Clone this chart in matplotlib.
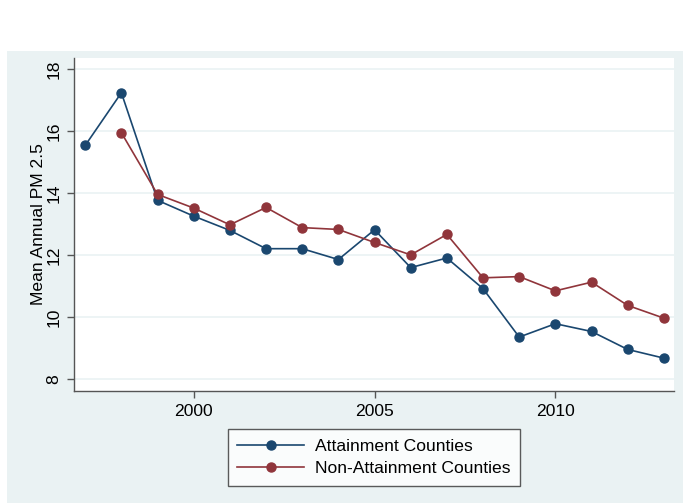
"""Mean annual PM2.5, attainment vs non-attainment counties (Stata-style line plot)."""
import matplotlib
matplotlib.use("Agg")
import matplotlib.pyplot as plt
from matplotlib.patches import Rectangle

plt.rcParams['font.family'] = ['Liberation Sans', 'DejaVu Sans']

# data
years_att = [1997, 1998, 1999, 2000, 2001, 2002, 2003, 2004, 2005,
             2006, 2007, 2008, 2009, 2010, 2011, 2012, 2013]
pm_att = [15.54, 17.24, 13.77, 13.26, 12.80, 12.21, 12.21, 11.86, 12.82,
          11.60, 11.91, 10.92, 9.36, 9.79, 9.54, 8.96, 8.68]
years_non = [1998, 1999, 2000, 2001, 2002, 2003, 2004, 2005,
             2006, 2007, 2008, 2009, 2010, 2011, 2012, 2013]
pm_non = [15.95, 13.96, 13.52, 12.98, 13.54, 12.89, 12.83, 12.41,
          12.01, 12.67, 11.27, 11.31, 10.85, 11.13, 10.38, 9.97]
labels = ["Attainment Counties", "Non-Attainment Counties"]
x_ticks = [2000, 2005, 2010]
y_ticks = [8, 10, 12, 14, 16, 18]

NAVY = "#1a476f"
MAROON = "#90353b"
BG = "#eaf2f3"
W, H = 683, 503
FS = 12.6

fig = plt.figure(figsize=(W / 100, H / 100), dpi=100, facecolor="white")
# light outer panel (Stata graph region), kept behind the axes
fig.patches.append(Rectangle((7 / W, 0), 1 - 7 / W, (H - 51) / H,
                             transform=fig.transFigure, facecolor=BG,
                             edgecolor="none", zorder=-10))

ax = fig.add_axes([74 / W, (H - 391) / H, 600 / W, 333 / H])
ax.set_zorder(1)
ax.set_facecolor("white")

ax.plot(years_att, pm_att, '-o', color=NAVY, lw=1.2, ms=6.5, label=labels[0], zorder=3)
ax.plot(years_non, pm_non, '-o', color=MAROON, lw=1.2, ms=6.5, label=labels[1], zorder=3)

ax.set_xlim(1996.69, 2013.28)
ax.set_ylim(7.62, 18.36)
ax.set_xticks(x_ticks)
ax.set_yticks(y_ticks)
ax.set_yticklabels([str(v) for v in y_ticks], rotation=90, va="center")
ax.tick_params(axis="both", labelsize=FS, length=5, width=1, color="#555555",
               direction="out", pad=4)
ax.yaxis.grid(True, color=BG, lw=1.2)
ax.set_axisbelow(True)
ax.set_ylabel("Mean Annual PM 2.5", fontsize=FS, labelpad=0)

for s in ["top", "right"]:
    ax.spines[s].set_visible(False)
for s in ["left", "bottom"]:
    ax.spines[s].set_color("#555555")
    ax.spines[s].set_linewidth(1)

leg = ax.legend(loc="center", bbox_to_anchor=(374 / W, 1 - 457.5 / H),
                bbox_transform=fig.transFigure, fontsize=FS, frameon=True,
                fancybox=False, handlelength=3.8, handletextpad=0.65,
                labelspacing=0.4, borderpad=0.55)
leg.get_frame().set_edgecolor("#333333")
leg.get_frame().set_linewidth(1)

fig.savefig("out.png", dpi=100, facecolor=fig.get_facecolor())
